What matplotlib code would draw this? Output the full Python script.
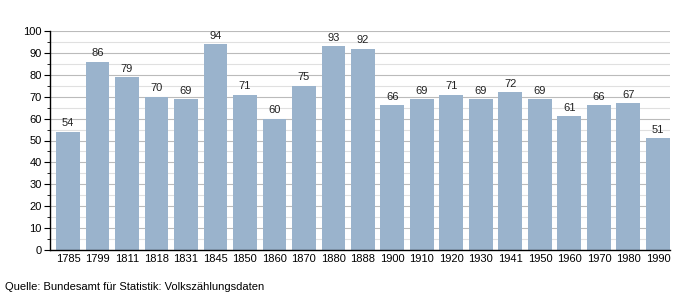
import matplotlib.pyplot as plt
import numpy as np

plt.rcParams['font.family'] = ['Liberation Sans', 'DejaVu Sans']

# census years and population values
years = ['1785', '1799', '1811', '1818', '1831', '1845', '1850', '1860', '1870', '1880',
         '1888', '1900', '1910', '1920', '1930', '1941', '1950', '1960', '1970', '1980', '1990']
values = [54, 86, 79, 70, 69, 94, 71, 60, 75, 93, 92, 66, 69, 71, 69, 72, 69, 61, 66, 67, 51]

bar_color = '#9ab3cc'

fig = plt.figure(figsize=(7, 3), dpi=100)
ax = fig.add_axes([50/700, 50/300, 620/700, 219/300])

x = np.arange(len(years))
ax.bar(x, values, width=0.81, color=bar_color, zorder=2)
for xi, v in zip(x, values):
    ax.text(xi, v + 1.5, str(v), ha='center', va='bottom', fontsize=8, color='#222222')

ax.set_xlim(-0.61, 20.41)
ax.set_ylim(0, 100)
ax.set_xticks(x)
ax.set_xticklabels(years, fontsize=8)
ax.set_yticks(np.arange(0, 101, 10))
ax.set_yticks(np.arange(0, 101, 5), minor=True)
ax.tick_params(axis='y', labelsize=8, length=4, pad=2)
ax.tick_params(axis='y', which='minor', length=2)
ax.tick_params(axis='x', length=0, pad=3)

ax.grid(axis='y', which='major', color='#bbbbbb', linewidth=0.8, zorder=0)
ax.grid(axis='y', which='minor', color='#e0e0e0', linewidth=0.8, zorder=0)
ax.set_axisbelow(True)
for s in ['top', 'right']:
    ax.spines[s].set_visible(False)
ax.spines['left'].set_linewidth(1)
ax.spines['bottom'].set_linewidth(1)

fig.text(5/700, 1 - 287/300, 'Quelle: Bundesamt für Statistik: Volkszählungsdaten',
         fontsize=8, va='center', ha='left')

fig.savefig('out.png', dpi=100)
